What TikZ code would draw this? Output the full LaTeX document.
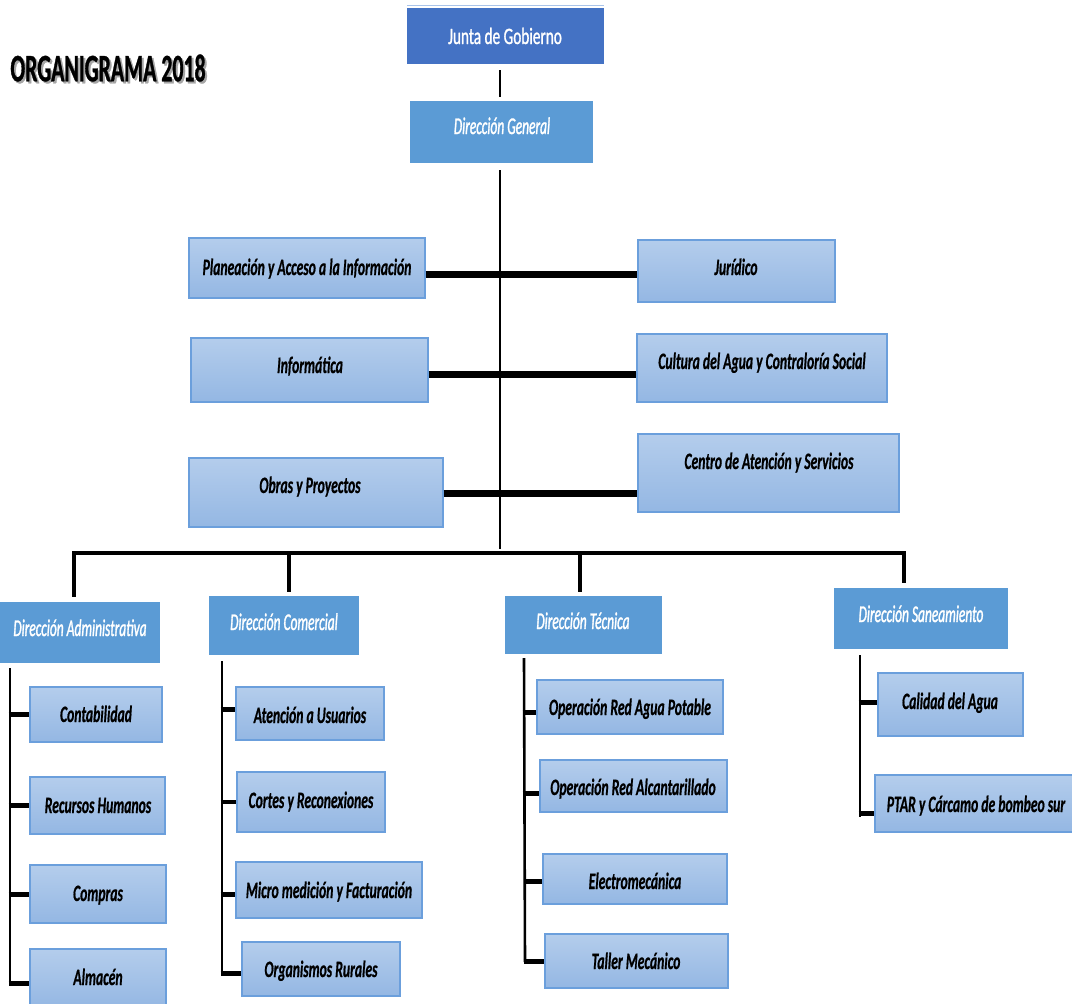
\documentclass[tikz,border=0pt]{standalone}
\usepackage{fontspec}
\usetikzlibrary{fit,calc}
\newfontfamily\fsub[FakeStretch=0.58,FakeBold=0.6]{Carlito}
\newfontfamily\fdir[FakeStretch=0.56,FakeBold=1.2]{Carlito}
\newfontfamily\fjun[FakeStretch=0.65,FakeBold=1.0]{Carlito}
\newfontfamily\ftit[FakeStretch=0.56,FakeBold=0.8]{Carlito}
\definecolor{junta}{HTML}{4472C4}
\definecolor{dirc}{HTML}{5B9BD5}
\definecolor{gtop}{HTML}{B4CDEC}
\definecolor{gbot}{HTML}{94B7E3}
\definecolor{gline}{HTML}{6B9FDC}
\definecolor{topln}{HTML}{A9C4EA}
\begin{document}
\begin{tikzpicture}[x=1pt,y=-1pt,
  jbox/.style={fill=junta, draw=none, inner sep=0pt},
  dbox/.style={fill=dirc, draw=none, inner sep=0pt},
  sbox/.style={top color=gtop, bottom color=gbot, draw=gline, line width=1.2pt, inner sep=0pt},
  stxt/.style={font={\fsub\fontsize{23.5}{26}\selectfont\bfseries\itshape}, text=black, inner sep=0pt, text height=15pt, text depth=5pt, yshift=-2pt},
  dtxt/.style={font={\fdir\fontsize{24}{27}\selectfont\itshape}, text=white, inner sep=0pt, text height=15pt, text depth=5pt, yshift=-2pt},
  jtxt/.style={font={\fjun\fontsize{23.5}{26}\selectfont}, text=white, inner sep=0pt, text height=15pt, text depth=5pt, yshift=-1pt},
  ttxt/.style={font={\ftit\fontsize{39}{42}\selectfont\bfseries}, inner sep=0pt},
  trunk/.style={draw=black, line width=2pt},
  bar/.style={draw=black, line width=7pt},
  bus/.style={draw=black, line width=4pt},
  drop/.style={draw=black, line width=3.5pt},
  vline/.style={draw=black, line width=2.6pt},
  stub/.style={draw=black, line width=5pt},
]
\useasboundingbox (0,0) rectangle (1072,1004);
\clip (0,0) rectangle (1072,1004);

% title
\node[ttxt, text=black!35] (titsh) at (110,70) {ORGANIGRAMA 2018};
\node[ttxt, text=black] (title) at (108,68) {ORGANIGRAMA 2018};

% top boxes
\node[jbox, fit={(407,8) (604,64)}] (junta) {};
\draw[topln, line width=1.2pt] ([yshift=2pt]junta.north west) -- ([yshift=2pt]junta.north east);
\node[jtxt] (tjunta) at (505,38) {Junta de Gobierno};
\node[dbox, fit={(410,101) (593,163)}] (dg) {};
\node[dtxt] (tdg) at (502,127) {Dirección General};

% staff boxes
\node[sbox, fit={(189,238) (425,298)}] (plan) {};
\node[stxt] (tplan) at (307,268) {Planeación y Acceso a la Información};
\node[sbox, fit={(638,240) (835,302)}] (jur) {};
\node[stxt] (tjur) at (736,268) {Jurídico};
\node[sbox, fit={(191,338) (428,402)}] (inf) {};
\node[stxt] (tinf) at (310,366) {Informática};
\node[sbox, fit={(637,334) (887,402)}] (cul) {};
\node[stxt] (tcul) at (762,362) {Cultura del Agua y Contraloría Social};
\node[sbox, fit={(189,458) (443,527)}] (obr) {};
\node[stxt] (tobr) at (310,486) {Obras y Proyectos};
\node[sbox, fit={(638,434) (899,512)}] (cen) {};
\node[stxt] (tcen) at (769,462) {Centro de Atención y Servicios};

% directions
\node[dbox, fit={(0,602) (160,663)}] (adm) {};
\node[dtxt] (tadm) at (80,629) {Dirección Administrativa};
\node[dbox, fit={(209,596) (359,655)}] (com) {};
\node[dtxt] (tcom) at (284,623) {Dirección Comercial};
\node[dbox, fit={(505,596) (662,654)}] (tec) {};
\node[dtxt] (ttec) at (583,622) {Dirección Técnica};
\node[dbox, fit={(834,588) (1008,649)}] (san) {};
\node[dtxt] (tsan) at (921,615) {Dirección Saneamiento};

% sub boxes
\node[sbox, fit={(30,687) (162,742)}] (cont) {};
\node[stxt] (tcont) at (96,715) {Contabilidad};
\node[sbox, fit={(30,777) (165,834)}] (rh) {};
\node[stxt] (trh) at (98,806) {Recursos Humanos};
\node[sbox, fit={(30,865) (166,923)}] (comp) {};
\node[stxt] (tcomp) at (98,894) {Compras};
\node[sbox, fit={(30,949) (166,1008)}] (alm) {};
\node[stxt] (talm) at (98,978) {Almacén};

\node[sbox, fit={(236,687) (384,740)}] (aten) {};
\node[stxt] (taten) at (310,716) {Atención a Usuarios};
\node[sbox, fit={(237,772) (385,832)}] (cort) {};
\node[stxt] (tcort) at (311,801) {Cortes y Reconexiones};
\node[sbox, fit={(236,862) (422,918)}] (micr) {};
\node[stxt] (tmicr) at (329,891) {Micro medición y Facturación};
\node[sbox, fit={(242,942) (400,996)}] (orga) {};
\node[stxt] (torga) at (321,970) {Organismos Rurales};

\node[sbox, fit={(537,680) (723,734)}] (opag) {};
\node[stxt] (topag) at (630,708) {Operación Red Agua Potable};
\node[sbox, fit={(540,760) (727,812)}] (opal) {};
\node[stxt] (topal) at (633,788) {Operación Red Alcantarillado};
\node[sbox, fit={(543,854) (727,904)}] (elec) {};
\node[stxt] (telec) at (635,882) {Electromecánica};
\node[sbox, fit={(545,934) (728,988)}] (tall) {};
\node[stxt] (ttall) at (636,962) {Taller Mecánico};

\node[sbox, fit={(878,673) (1023,736)}] (cal) {};
\node[stxt] (tcal) at (950,702) {Calidad del Agua};
\node[sbox, fit={(875,775) (1080,832)}] (ptar) {};
\node[stxt] (tptar) at (976,805) {PTAR y Cárcamo de bombeo sur};

% trunk
\coordinate (j1) at (500,70);
\coordinate (j2) at (500,97);
\coordinate (g1) at (500,170);
\coordinate (g2) at (500,549);
\draw[trunk] (j1) -- (j2);
\draw[trunk] (g1) -- (g2);

% staff bars
\coordinate (b1) at (500,274);
\coordinate (b2) at (500,374);
\coordinate (b3) at (500,493);
\draw[bar] (plan.east |- b1) -- (jur.west |- b1);
\draw[bar] (inf.east |- b2) -- (cul.west |- b2);
\draw[bar] (obr.east |- b3) -- (cen.west |- b3);

% bus and drops
\coordinate (busL) at (74,553);
\coordinate (busC) at (289,553);
\coordinate (busT) at (580,553);
\coordinate (busR) at (904,553);
\draw[bus] ($(busL)+(-1.75,0)$) -- ($(busR)+(1.75,0)$);
\draw[drop] (busL) -- ($(adm.north -| busL)+(0,-5)$);
\draw[drop] (busC) -- ($(com.north -| busC)+(0,-4)$);
\draw[drop] (busT) -- ($(tec.north -| busT)+(0,-4)$);
\draw[drop] (busR) -- ($(san.north -| busR)+(0,-5)$);

% administrative column
\coordinate (av1) at (10,668);
\coordinate (av2) at (10,985);
\draw[vline] (av1) -- (av2);
\draw[stub] ($(cont.west -| av1)+(-1.3,0)$) -- (cont.west);
\draw[stub] ($(rh.west -| av1)+(-1.3,0)$) -- (rh.west);
\draw[stub] ($(comp.west -| av1)+(-1.3,0)$) -- (comp.west);
\draw[stub] ($(alm.west -| av1)+(-1.3,5)$) -- ($(alm.west)+(0,5)$);

% commercial column
\coordinate (cv1) at (222,661);
\coordinate (cv2) at (222,976);
\draw[vline] (cv1) -- (cv2);
\draw[stub] ($(aten.west -| cv1)+(-1.3,-4)$) -- ($(aten.west)+(0,-4)$);
\draw[stub, line width=3.5pt] ($(cort.west -| cv1)+(-1.3,0)$) -- (cort.west);
\draw[stub] ($(micr.west -| cv1)+(-1.3,4)$) -- ($(micr.west)+(0,4)$);
\draw[stub] ($(orga.west -| cv1)+(-1.3,4)$) -- ($(orga.west)+(0,4)$);

% technical column
\coordinate (tv1) at (524,658);
\coordinate (tv2) at (525,962);
\draw[vline] (tv1) -- (tv2);
\draw[stub] ($(opag.west -| tv1)+(-1.3,5)$) -- ($(opag.west)+(0,5)$);
\draw[stub] ($(opal.west -| tv1)+(-1.3,7)$) -- ($(opal.west)+(0,7)$);
\draw[stub] ($(elec.west -| tv2)+(-1.3,2)$) -- ($(elec.west)+(0,2)$);
\draw[stub] ($(tall.west -| tv2)+(-1.3,0)$) -- (tall.west);

% sanitation column
\coordinate (sv1) at (860,655);
\coordinate (sv2) at (860,817);
\draw[vline] (sv1) -- (sv2);
\draw[stub] ($(cal.west -| sv1)+(-1.3,-2)$) -- ($(cal.west)+(0,-2)$);
\draw[stub] ($(ptar.west -| sv1)+(-1.3,10)$) -- ($(ptar.west)+(0,10)$);
\end{tikzpicture}
\end{document}
